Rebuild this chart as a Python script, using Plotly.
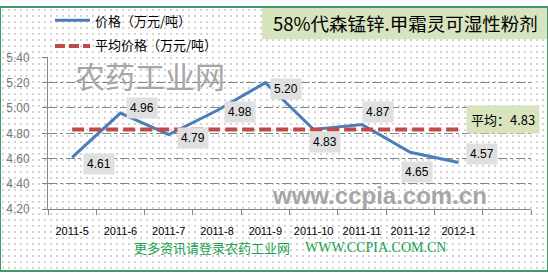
import plotly.graph_objects as go

# ---------------- data ----------------
months = ["2011-5", "2011-6", "2011-7", "2011-8", "2011-9",
          "2011-10", "2011-11", "2011-12", "2012-1"]
prices = [4.61, 4.96, 4.79, 4.98, 5.20, 4.83, 4.87, 4.65, 4.57]
average = 4.83
series_names = ["价格（万元/吨）", "平均价格（万元/吨）"]
title_text = "58%代森锰锌.甲霜灵可湿性粉剂"
avg_label = "平均：4.83"
y_ticks = [4.20, 4.40, 4.60, 4.80, 5.00, 5.20, 5.40]

# ---------------- styles ----------------
W, H = 548, 278
BLUE = "#4a7ebb"
RED = "#be4b48"
GRID = "#868686"
CJK = "Noto Sans CJK SC"
SANS = "Liberation Sans"
label_shift = [(27, -7), (22, 5), (24, -3), (23, -1), (21, -6),
               (11, -12), (16, 12), (7, -20), (23, 8)]


def px(x):
    return x / W


def py(y):
    return 1 - y / H


fig = go.Figure()

# dotted background pattern over the whole page
fig.add_trace(go.Scatter(
    x=[0, 1, 1, 0, 0], y=[0, 0, 1, 1, 0], mode="lines", fill="toself",
    line=dict(width=0), fillcolor="#ffffff",
    fillpattern=dict(shape=".", size=6, solidity=0.09, fgcolor="#c6c6c6",
                     bgcolor="#ffffff", fillmode="replace"),
    hoverinfo="skip", showlegend=False, xaxis="x", yaxis="y"))

xi = list(range(len(months)))
fig.add_trace(go.Scatter(
    x=xi, y=prices, mode="lines", name=series_names[0],
    line=dict(color=BLUE, width=3), xaxis="x2", yaxis="y2",
    showlegend=False, hoverinfo="skip"))
fig.add_trace(go.Scatter(
    x=xi, y=[average] * len(months), mode="lines", name=series_names[1],
    line=dict(color=RED, width=4, dash="12px,5px"), xaxis="x2", yaxis="y2",
    showlegend=False, hoverinfo="skip"))

annotations = []
# data labels
for i, v in enumerate(prices):
    dx, dy = label_shift[i]
    annotations.append(dict(
        x=i, y=v, xref="x2", yref="y2", text=f"{v:.2f}", showarrow=False,
        xshift=dx, yshift=dy, bgcolor="#e0e0e0", borderpad=3,
        font=dict(family=SANS, size=12, color="#000000")))
# average label
annotations.append(dict(
    x=len(months) - 1, y=average, xref="x2", yref="y2", text=avg_label,
    showarrow=False, xshift=44, yshift=10, bgcolor="#d7e4bd", borderpad=4,
    font=dict(family=CJK + ", " + SANS, size=13, color="#000000")))

# title
annotations.append(dict(
    x=px(271), y=py(17), xref="paper", yref="paper", text=title_text,
    showarrow=False, xanchor="left", yanchor="middle",
    font=dict(family=CJK, size=18.5, color="#000000")))
# legend texts
annotations.append(dict(
    x=px(93), y=py(14), xref="paper", yref="paper", text=series_names[0],
    showarrow=False, xanchor="left", yanchor="middle",
    font=dict(family=CJK, size=13, color="#000000")))
annotations.append(dict(
    x=px(93), y=py(40), xref="paper", yref="paper", text=series_names[1],
    showarrow=False, xanchor="left", yanchor="middle",
    font=dict(family=CJK, size=13, color="#000000")))
# watermarks
annotations.append(dict(
    x=px(150), y=py(72), xref="paper", yref="paper", text="农药工业网",
    showarrow=False, xanchor="center", yanchor="middle",
    font=dict(family=CJK, size=30, color="#a6a6a6")))
annotations.append(dict(
    x=px(379), y=py(199), xref="paper", yref="paper", text="www.ccpia.com.cn",
    showarrow=False, xanchor="center", yanchor="middle",
    font=dict(family=SANS, size=24, color="#a6a6a6", weight="bold")))
# footer
annotations.append(dict(
    x=px(212), y=py(253), xref="paper", yref="paper", text="更多资讯请登录农药工业网",
    showarrow=False, xanchor="center", yanchor="middle",
    font=dict(family=CJK, size=13, color="#1a9f4f")))
annotations.append(dict(
    x=px(375), y=py(253), xref="paper", yref="paper", text="WWW.CCPIA.COM.CN",
    showarrow=False, xanchor="center", yanchor="middle",
    font=dict(family="Liberation Serif", size=14, color="#1a9f4f")))

shapes = [
    # title box
    dict(type="rect", xref="paper", yref="paper", x0=px(262), x1=1,
         y0=py(34), y1=1, fillcolor="#d7e4bd", line=dict(width=0), layer="above"),
    # legend samples
    dict(type="line", xref="paper", yref="paper", x0=px(55), x1=px(90),
         y0=py(14), y1=py(14), line=dict(color=BLUE, width=3)),
    dict(type="line", xref="paper", yref="paper", x0=px(55), x1=px(90),
         y0=py(41), y1=py(41), line=dict(color=RED, width=4, dash="10px,4px")),
    # outer border
    dict(type="rect", xref="paper", yref="paper", x0=0, x1=1, y0=0, y1=1,
         line=dict(color="#3d9a6b", width=2), fillcolor="rgba(0,0,0,0)"),
]

fig.update_layout(
    width=W, height=H, margin=dict(l=0, r=0, t=0, b=0),
    paper_bgcolor="#ffffff", plot_bgcolor="rgba(0,0,0,0)",
    showlegend=False, hovermode=False,
    annotations=annotations, shapes=shapes,
    xaxis=dict(domain=[0, 1], range=[0, 1], visible=False, fixedrange=True),
    yaxis=dict(domain=[0, 1], range=[0, 1], visible=False, fixedrange=True),
    xaxis2=dict(
        domain=[px(48), px(531)], anchor="y2", range=[-0.5, 9.5],
        tickmode="array", tickvals=xi, ticktext=months, ticks="",
        showgrid=False, zeroline=False, showline=True, linecolor=GRID, linewidth=1,
        tickfont=dict(family=SANS, size=11, color="#000000"),
        ticklabelstandoff=12,
        minor=dict(tickmode="linear", tick0=-0.5, dtick=1, ticks="outside",
                   ticklen=5, tickcolor=GRID, showgrid=False),
    ),
    yaxis2=dict(
        domain=[py(213), py(53)], anchor="x2", range=[4.2, 5.4],
        tickmode="array", tickvals=y_ticks, tickformat=".2f",
        ticks="outside", ticklen=5, tickcolor=GRID,
        showgrid=True, gridcolor=GRID, griddash="dashdot", gridwidth=1,
        zeroline=False, showline=True, linecolor=GRID, linewidth=1,
        tickfont=dict(family=SANS, size=12, color="#767676"),
        ticklabelstandoff=10,
    ),
)

fig.write_html("out.html")
